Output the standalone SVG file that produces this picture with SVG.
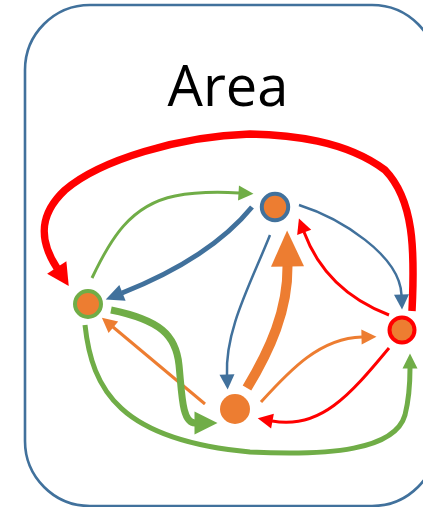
<svg xmlns="http://www.w3.org/2000/svg" width="423" height="507" viewBox="0 0 423 507">
  <style>
    .edge { fill: none; stroke-linecap: butt; }
    .red { stroke: #FF0000; }
    .blue { stroke: #41719C; }
    .orange { stroke: #ED7D31; }
    .green { stroke: #70AD47; }
    .node { fill: #ED7D31; stroke-width: 4; }
    .title { font-family: "Open Sans", "Liberation Sans", sans-serif; font-size: 56px; fill: #000; }
  </style>
  <defs>
    <!-- arrowheads: path ends at the arrow base, head extends forward -->
    <marker id="red-lg" markerUnits="userSpaceOnUse" markerWidth="22" markerHeight="23" refX="0.5" refY="11.5" orient="auto" overflow="visible">
      <path d="M0,0 L22,11.5 L0,23 z" fill="#FF0000"/>
    </marker>
    <marker id="red-sm" markerUnits="userSpaceOnUse" markerWidth="15" markerHeight="15" refX="0.5" refY="7.5" orient="auto" overflow="visible">
      <path d="M0,0 L15,7.5 L0,15 z" fill="#FF0000"/>
    </marker>
    <marker id="blue-md" markerUnits="userSpaceOnUse" markerWidth="18" markerHeight="17" refX="0.5" refY="8.5" orient="auto" overflow="visible">
      <path d="M0,0 L18,8.5 L0,17 z" fill="#41719C"/>
    </marker>
    <marker id="blue-sm" markerUnits="userSpaceOnUse" markerWidth="15" markerHeight="15" refX="0.5" refY="7.5" orient="auto" overflow="visible">
      <path d="M0,0 L15,7.5 L0,15 z" fill="#41719C"/>
    </marker>
    <marker id="orange-lg" markerUnits="userSpaceOnUse" markerWidth="36" markerHeight="33" refX="0.5" refY="16.5" orient="auto" overflow="visible">
      <path d="M0,0 L36,16.5 L0,33 z" fill="#ED7D31"/>
    </marker>
    <marker id="orange-sm" markerUnits="userSpaceOnUse" markerWidth="15" markerHeight="15" refX="0.5" refY="7.5" orient="auto" overflow="visible">
      <path d="M0,0 L15,7.5 L0,15 z" fill="#ED7D31"/>
    </marker>
    <marker id="green-lg" markerUnits="userSpaceOnUse" markerWidth="23" markerHeight="23" refX="0.5" refY="11.5" orient="auto" overflow="visible">
      <path d="M0,0 L23,11.5 L0,23 z" fill="#70AD47"/>
    </marker>
    <marker id="green-sm" markerUnits="userSpaceOnUse" markerWidth="15" markerHeight="15" refX="0.5" refY="7.5" orient="auto" overflow="visible">
      <path d="M0,0 L15,7.5 L0,15 z" fill="#70AD47"/>
    </marker>
  </defs>

  <!-- area frame -->
  <g id="area">
    <rect x="25" y="5" width="412" height="501" rx="65" ry="65" fill="#FFFFFF" stroke="#41719C" stroke-width="2.6"/>
    <text class="title" x="228" y="106" text-anchor="middle">Area</text>
  </g>

  <g id="connectors">
    <!-- right -> left, over the top -->
    <path class="edge red" stroke-width="7.5" marker-end="url(#red-lg)"
          d="M412,311 C415,250 414,200 385,170 C345,140 290,135 250,134 C180,136 100,160 65,190 C35,218 42,245 57,268"/>
    <!-- left -> top -->
    <path class="edge green" stroke-width="3" marker-end="url(#green-sm)"
          d="M92,278 C110,240 130,205 175,196 C200,191 222,192 239,193"/>
    <!-- top -> left -->
    <path class="edge blue" stroke-width="5" marker-end="url(#blue-md)"
          d="M252,207 C225,240 180,270 122,293"/>
    <!-- top -> right -->
    <path class="edge blue" stroke-width="2.5" marker-end="url(#blue-sm)"
          d="M299,205 C340,218 400,255 401.5,295"/>
    <!-- top -> bottom -->
    <path class="edge blue" stroke-width="2.5" marker-end="url(#blue-sm)"
          d="M270,235 C250,285 225,330 227,375"/>
    <!-- bottom -> top -->
    <path class="edge orange" stroke-width="10" marker-end="url(#orange-lg)"
          d="M247,388 C270,350 288,310 287.5,266"/>
    <!-- bottom -> left -->
    <path class="edge orange" stroke-width="3" marker-end="url(#orange-sm)"
          d="M205,404 L113,327"/>
    <!-- bottom -> right -->
    <path class="edge orange" stroke-width="3" marker-end="url(#orange-sm)"
          d="M261,402 C290,370 320,338 362,337"/>
    <!-- right -> top -->
    <path class="edge red" stroke-width="3" marker-end="url(#red-sm)"
          d="M389,315 C350,300 320,275 304,232"/>
    <!-- right -> bottom -->
    <path class="edge red" stroke-width="3" marker-end="url(#red-sm)"
          d="M389,348 C350,395 320,430 272,421"/>
    <!-- left -> bottom -->
    <path class="edge green" stroke-width="7" marker-end="url(#green-lg)"
          d="M111,310 C160,320 176,335 179,365 C182,395 182,423 195,423"/>
    <!-- left -> right, under the bottom -->
    <path class="edge green" stroke-width="5" marker-end="url(#green-sm)"
          d="M85,325 C92,390 120,440 250,452 C330,456 395,450 405,415 C410,395 410,380 410,368"/>
  </g>

  <g id="node-top">
    <circle class="node" cx="275" cy="207" r="13.2" stroke="#41719C"/>
  </g>
  <g id="node-left">
    <circle class="node" cx="88" cy="304" r="13" stroke="#70AD47"/>
  </g>
  <g id="node-right">
    <circle class="node" cx="402" cy="330" r="12.5" stroke="#FF0000"/>
  </g>
  <g id="node-bottom">
    <circle class="node" cx="235" cy="409" r="15" stroke="none"/>
  </g>
</svg>
